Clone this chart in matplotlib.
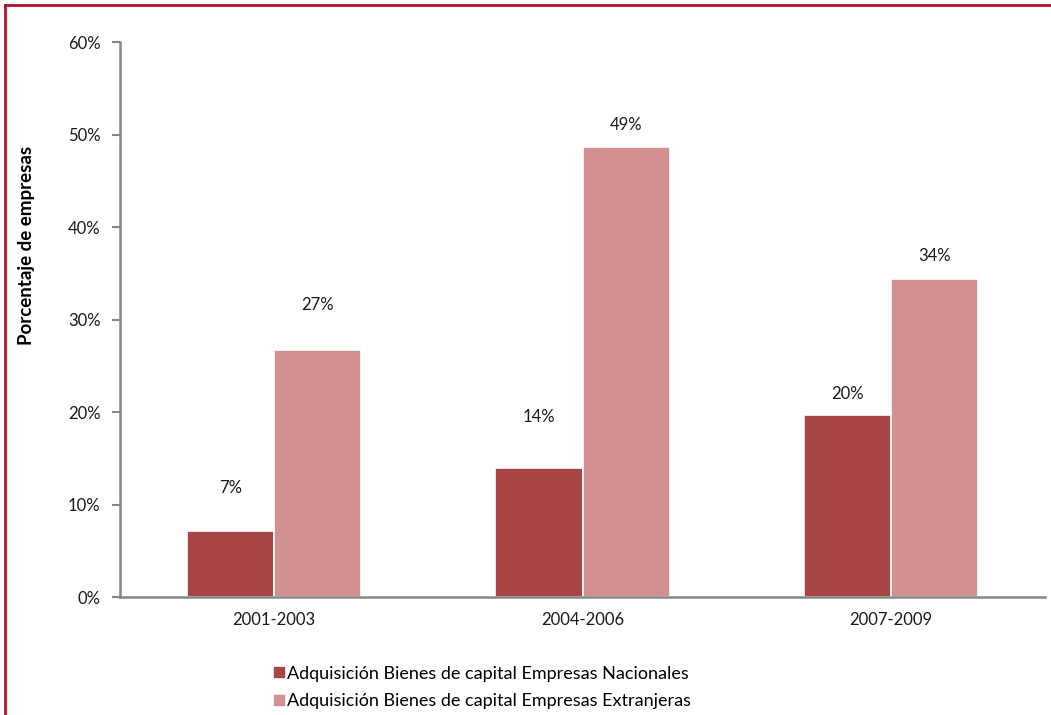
import matplotlib.pyplot as plt
import numpy as np
from matplotlib.lines import Line2D
from matplotlib.ticker import FuncFormatter

plt.rcParams['font.family'] = ['Lato', 'DejaVu Sans']

periods = ["2001-2003", "2004-2006", "2007-2009"]
nacionales = [7.1, 14.0, 19.7]
extranjeras = [26.7, 48.7, 34.4]
series_names = ["Adquisición Bienes de capital Empresas Nacionales",
                "Adquisición Bienes de capital Empresas Extranjeras"]

C_NAC = "#a64543"
C_EXT = "#d39090"
AXIS = "#868686"

fig = plt.figure(figsize=(10.51, 7.15), dpi=100)
ax = fig.add_axes([0.1142, 0.165, 0.8801, 0.7762])

x = np.arange(len(periods))
w = 0.283
b1 = ax.bar(x - w / 2, nacionales, w, color=C_NAC, edgecolor="white", linewidth=1.2)
b2 = ax.bar(x + w / 2, extranjeras, w, color=C_EXT, edgecolor="white", linewidth=1.2)

# label gaps above each bar (px), the labels don't sit at a fixed distance
gap_nac = [43, 51, 21]
gap_ext = [45, 22, 23]
for bars, vals, gaps in [(b1, nacionales, gap_nac), (b2, extranjeras, gap_ext)]:
    for r, v, g in zip(bars, vals, gaps):
        ax.annotate(f"{v:.0f}%", (r.get_x() + r.get_width() / 2, v),
                    xytext=(0, g * 0.72), textcoords="offset points",
                    ha="center", va="center", fontsize=12, color="#1a1a1a")

ax.set_xlim(-0.5, 2.5)
ax.set_ylim(0, 60)
ax.set_yticks(range(0, 61, 10))
ax.yaxis.set_major_formatter(FuncFormatter(lambda v, p: f"{v:.0f}%"))
ax.set_xticks(x)
ax.set_xticklabels(periods)
ax.tick_params(axis="x", length=0, pad=11, labelsize=12, labelcolor="#1a1a1a")
ax.tick_params(axis="y", length=6, width=1.5, color=AXIS, pad=8, labelsize=12,
               labelcolor="#1a1a1a")
for s in ["top", "right"]:
    ax.spines[s].set_visible(False)
for s in ["left", "bottom"]:
    ax.spines[s].set_color(AXIS)
    ax.spines[s].set_linewidth(1.8)

ax.set_ylabel("Porcentaje de empresas", fontsize=13.5, fontweight="bold")
ax.yaxis.set_label_coords(-0.092, 0.634)

handles = [Line2D([], [], marker="s", ls="", color=C_NAC, markersize=7),
           Line2D([], [], marker="s", ls="", color=C_EXT, markersize=7)]
fig.legend(handles, series_names, loc="upper left", bbox_to_anchor=(0.252, 0.079),
           frameon=False, fontsize=13, handletextpad=0.05, handlelength=0.8,
           labelspacing=0.62, borderaxespad=0)

# red frame around the chart
fig.add_artist(Line2D([0.0052, 0.0052], [0, 0.9935], transform=fig.transFigure,
                      color="#b5122f", lw=2))
fig.add_artist(Line2D([0.0052, 1.0], [0.9935, 0.9935], transform=fig.transFigure,
                      color="#b5122f", lw=2))

fig.savefig("out.png", dpi=100)
